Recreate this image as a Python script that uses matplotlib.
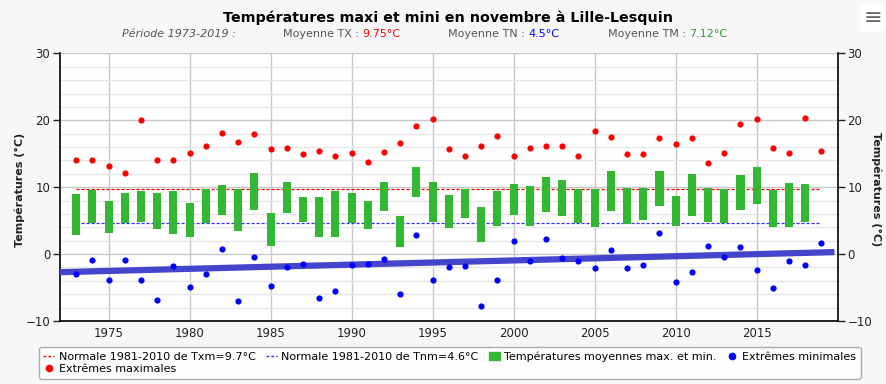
import numpy as np
import matplotlib
matplotlib.use("Agg")
import matplotlib.pyplot as plt
from matplotlib.lines import Line2D
from matplotlib.patches import Patch

# Data
years = np.arange(1973, 2020)
tx_extreme = [14.1, 14.1, 13.1, 12.1, 20.1, 14.1, 14.1, 15.1, 16.1, 18.1, 16.7, 17.9,
              15.7, 15.9, 14.9, 15.4, 14.7, 15.1, 13.8, 15.2, 16.6, 19.1, 20.2, 15.7,
              14.7, 16.2, 17.6, 14.6, 15.8, 16.1, 16.1, 14.6, 18.4, 17.5, 14.9, 14.9,
              17.3, 16.5, 17.4, 13.6, 15.1, 19.4, 20.2, 15.8, 15.1, 20.4, 15.4]
tn_extreme = [-2.9, -0.9, -3.9, -0.9, -3.9, -6.9, -1.8, -4.9, -2.9, 0.7, -7.0, -0.4,
              -4.8, -2.0, -1.5, -6.5, -5.5, -1.7, -1.5, -0.7, -6.0, 2.8, -3.9, -2.0,
              -1.8, -7.7, -3.8, 1.9, -1.1, 2.2, -0.6, -1.0, -2.1, 0.6, -2.1, -1.7,
              3.1, -4.2, -2.6, 1.2, -0.5, 1.1, -2.3, -5.0, -1.1, -1.6, 1.6]

bar_years = np.arange(1973, 2019)
tx_mean = [8.96, 9.55, 7.97, 9.06, 9.46, 9.2, 9.4, 7.57, 9.8, 10.35, 9.7, 12.08, 6.14,
           10.8, 8.47, 8.47, 9.4, 9.06, 7.87, 10.84, 5.69, 13.07, 10.74, 8.76, 9.7,
           6.98, 9.46, 10.45, 10.25, 11.53, 11.14, 9.8, 9.7, 12.48, 9.85, 9.85, 12.48,
           8.66, 11.98, 9.85, 9.7, 11.88, 13.07, 9.55, 10.69, 10.54]
tn_mean = [2.92, 4.6, 3.2, 4.6, 4.75, 3.8, 3.0, 2.52, 4.6, 5.8, 3.5, 6.58, 1.14, 6.19,
           4.8, 2.52, 2.5, 4.6, 3.7, 6.49, 0.99, 8.56, 4.8, 3.91, 5.35, 1.88, 4.2, 5.8,
           4.2, 6.29, 5.69, 4.6, 4.1, 6.39, 4.5, 5.1, 7.18, 4.2, 5.69, 4.8, 4.6, 6.58,
           7.48, 4.0, 4.1, 4.75]

normal_years = [1973, 2019]
normal_tx = 9.7
normal_tn = 4.6

trend_years = [1972, 2019.8]
trend_tn = [-2.7, 0.3]

red = "#ff0000"
blue = "#0000ff"
green = "#33b833"

fig = plt.figure(figsize=(8.87, 3.84), dpi=100, facecolor="#f7f7f7")
ax = fig.add_axes([0.0676, 0.164, 0.8768, 0.697])
ax.set_facecolor("white")

tx_mean = np.array(tx_mean)
tn_mean = np.array(tn_mean)
ax.bar(bar_years, tx_mean - tn_mean, bottom=tn_mean, width=0.5, color=green, zorder=3)
ax.plot(normal_years, [normal_tx] * 2, color=red, lw=0.9, ls=(0, (2.5, 1.5)), zorder=2)
ax.plot(normal_years, [normal_tn] * 2, color="#3030ff", lw=0.9, ls=(0, (2.5, 1.5)), zorder=2)
ax.plot(trend_years, trend_tn, color="#4444cc", lw=4.5, solid_capstyle="butt", zorder=4)
ax.scatter(years, tx_extreme, s=20, color=red, zorder=5, linewidths=0)
ax.scatter(years, tn_extreme, s=20, color=blue, zorder=5, linewidths=0)

ax.set_xlim(1972, 2020)
ax.set_ylim(-10, 30)
ax.set_xticks(np.arange(1975, 2020, 5))
ax.set_yticks([-10, 0, 10, 20, 30])
ax.set_yticks(np.arange(-10, 31, 2), minor=True)
ax.grid(axis="x", color="#c8c8c8", lw=1)
ax.grid(axis="y", which="major", color="#c8c8c8", lw=1)
ax.grid(axis="y", which="minor", color="#e6e6e6", lw=1)
ax.set_axisbelow(True)
ax.tick_params(axis="x", length=0, labelsize=8.5, pad=4, colors="#222222")
ax.tick_params(axis="y", which="major", length=5, width=1, labelsize=8.5, pad=2,
               colors="#222222")
ax.tick_params(axis="y", which="minor", length=0)
ax.tick_params(axis="y", labelright=True, right=True)
for s in ["left", "right", "bottom"]:
    ax.spines[s].set_color("black")
    ax.spines[s].set_linewidth(1.2)
ax.spines["top"].set_visible(False)

fig.text(0.0225, 0.505, "Températures (°C)", rotation=90, fontsize=8, fontweight="bold",
         color="#222222", ha="center", va="center")
fig.text(0.988, 0.508, "Températures (°C)", rotation=270, fontsize=8, fontweight="bold",
         color="#222222", ha="center", va="center")

fig.text(0.505, 0.953, "Températures maxi et mini en novembre à Lille-Lesquin",
         fontsize=10.3, fontweight="bold", ha="center", va="center", color="black")
sub_y = 0.911
fig.text(0.1375, sub_y, "Période 1973-2019 :", fontsize=8, style="italic", color="#555555",
         va="center")
parts = [(0.319, "Moyenne TX : ", "9.75°C", red), (0.505, "Moyenne TN : ", "4.5°C", blue),
         (0.685, "Moyenne TM : ", "7.12°C", "#339933")]
for x, lab, val, col in parts:
    t = fig.text(x, sub_y, lab, fontsize=8, color="#555555", va="center")
    fig.canvas.draw()
    bb = t.get_window_extent()
    fig.text(bb.x1 / fig.bbox.width, sub_y, val, fontsize=8, color=col, va="center")

# menu icon
fig.text(0.984, 0.953, "≡", fontsize=16, color="#666666", ha="center", va="center",
         bbox=dict(boxstyle="round,pad=0.15", fc="white", ec="none"))

handles = [
    Line2D([], [], color=red, ls=(0, (2, 1.5)), lw=1),
    Line2D([], [], color=red, marker="o", ls="none", markersize=4.5),
    Line2D([], [], color="#3030ff", ls=(0, (2, 1.5)), lw=1),
    Patch(color=green),
    Line2D([], [], color=blue, marker="o", ls="none", markersize=4.5),
]
labels = [
    "Normale 1981-2010 de Txm=9.7°C",
    "Extrêmes maximales",
    "Normale 1981-2010 de Tnm=4.6°C",
    "Températures moyennes max. et min.",
    "Extrêmes minimales",
]
leg = fig.legend(handles, labels, ncol=4, loc="center", bbox_to_anchor=(0.507, 0.055),
                 fontsize=8, frameon=True, handlelength=1.0, handletextpad=0.4,
                 columnspacing=0.9, labelspacing=0.2, borderpad=0.4, fancybox=True)
leg.get_frame().set_edgecolor("#999999")
leg.get_frame().set_facecolor("white")

fig.savefig("out.png", dpi=100, facecolor=fig.get_facecolor())
